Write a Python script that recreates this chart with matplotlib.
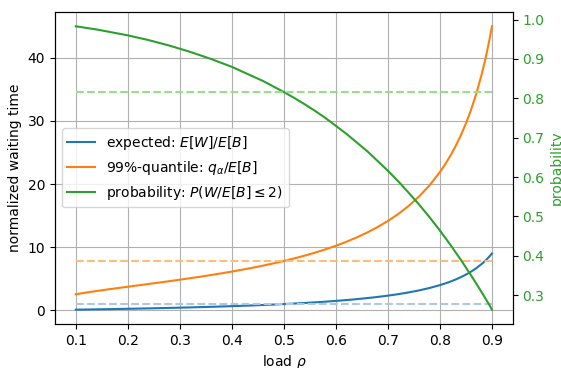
import matplotlib.pyplot as plt

# load values and readings taken from the chart
rho = [0.10, 0.12, 0.14, 0.16, 0.18, 0.20, 0.22, 0.24, 0.26, 0.28,
       0.30, 0.32, 0.34, 0.36, 0.38, 0.40, 0.42, 0.44, 0.46, 0.48,
       0.50, 0.52, 0.54, 0.56, 0.58, 0.60, 0.62, 0.64, 0.66, 0.68,
       0.70, 0.72, 0.74, 0.76, 0.78, 0.80, 0.81, 0.82, 0.83, 0.84,
       0.85, 0.86, 0.87, 0.88, 0.885, 0.89, 0.895, 0.90]

expected = [0.111, 0.136, 0.163, 0.190, 0.220, 0.250, 0.282, 0.316, 0.351, 0.389,
            0.429, 0.471, 0.515, 0.563, 0.613, 0.667, 0.724, 0.786, 0.852, 0.923,
            1.000, 1.083, 1.174, 1.273, 1.381, 1.500, 1.632, 1.778, 1.941, 2.125,
            2.333, 2.571, 2.846, 3.167, 3.545, 4.000, 4.263, 4.556, 4.882, 5.250,
            5.667, 6.143, 6.692, 7.333, 7.696, 8.091, 8.524, 9.000]

quantile = [2.558, 2.824, 3.069, 3.301, 3.525, 3.745, 3.963, 4.182, 4.403, 4.628,
            4.859, 5.097, 5.343, 5.599, 5.867, 6.148, 6.444, 6.758, 7.090, 7.445,
            7.824, 8.232, 8.672, 9.149, 9.668, 10.236, 10.861, 11.553, 12.323, 13.186,
            14.162, 15.274, 16.554, 18.045, 19.803, 21.910, 23.129, 24.482, 25.993, 27.693,
            29.618, 31.817, 34.353, 37.311, 38.983, 40.806, 42.802, 44.998]

probability = [0.983, 0.979, 0.975, 0.970, 0.965, 0.960, 0.954, 0.948, 0.941, 0.934,
               0.926, 0.918, 0.909, 0.900, 0.890, 0.880, 0.868, 0.856, 0.844, 0.830,
               0.816, 0.801, 0.785, 0.768, 0.750, 0.730, 0.710, 0.688, 0.666, 0.641,
               0.616, 0.589, 0.560, 0.530, 0.498, 0.464, 0.446, 0.428, 0.409, 0.390,
               0.370, 0.350, 0.329, 0.308, 0.297, 0.286, 0.275, 0.263]

# reference levels at rho = 0.5
ref_expected = 1.0
ref_quantile = 7.824
ref_probability = 0.816

fig, ax = plt.subplots(figsize=(5.61, 3.68), dpi=100)
fig.subplots_adjust(left=0.098, right=0.914, top=0.967, bottom=0.120)

ax.plot(rho, expected, color='tab:blue', label=r'expected: $E[W]/E[B]$')
ax.plot(rho, quantile, color='tab:orange', label=r'99%-quantile: $q_\alpha/E[B]$')
ax.hlines(ref_expected, rho[0], rho[-1], colors='#aec7e8', linestyles='--')
ax.hlines(ref_quantile, rho[0], rho[-1], colors='#ffbb78', linestyles='--')
ax.set_xlabel(r'load $\rho$')
ax.set_ylabel('normalized waiting time')
ax.grid(True)

ax2 = ax.twinx()
line, = ax2.plot(rho, probability, color='tab:green',
                 label=r'probability: $P(W/E[B] \leq 2)$')
ax2.hlines(ref_probability, rho[0], rho[-1], colors='#98df8a', linestyles='--')
ax2.set_ylabel('probability', color='tab:green')
ax2.tick_params(axis='y', labelcolor='tab:green')

handles, labels = ax.get_legend_handles_labels()
ax.legend(handles + [line], labels + [line.get_label()], loc='center left')

plt.savefig('out.png')
